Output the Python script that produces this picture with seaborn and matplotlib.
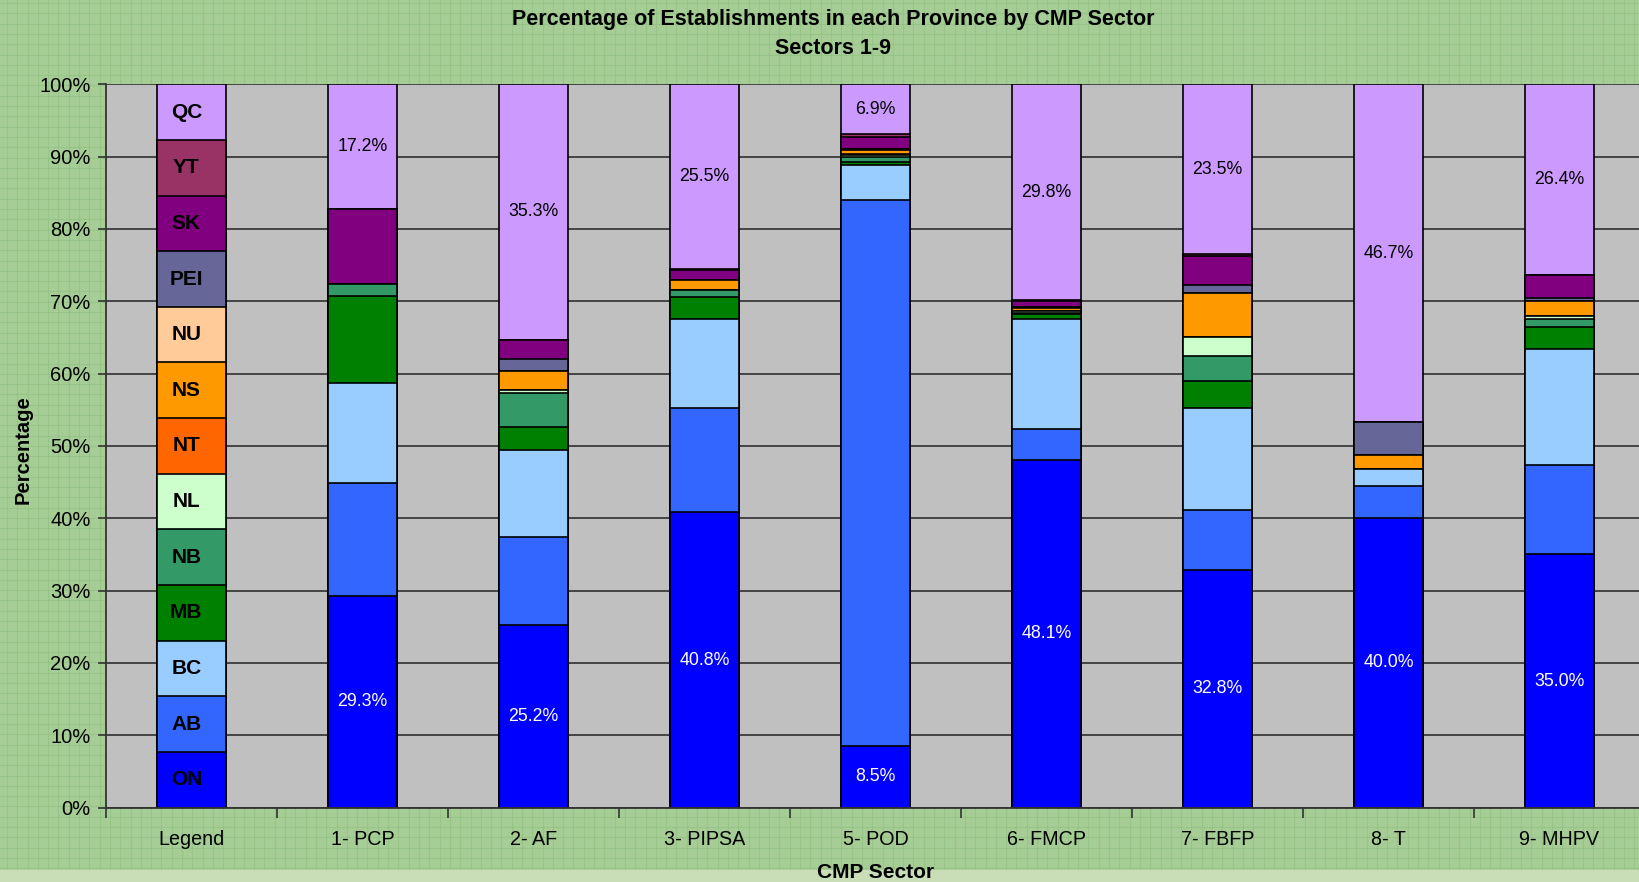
import numpy as np
import pandas as pd
import matplotlib
matplotlib.use("Agg")
import matplotlib.pyplot as plt
import seaborn as sns

# datos (porcentaje de establecimientos por provincia)
sectores = ["Legend", "1- PCP", "2- AF", "3- PIPSA", "5- POD", "6- FMCP", "7- FBFP", "8- T", "9- MHPV"]
provincias = ["ON", "AB", "BC", "MB", "NB", "NL", "NT", "NS", "NU", "PEI", "SK", "YT", "QC"]
colores = ["#0000FF", "#3366FF", "#99CCFF", "#008000", "#339966", "#CCFFCC", "#FF6600",
           "#FF9900", "#FFCC99", "#666699", "#800080", "#993366", "#CC99FF"]

leyenda = [100 / 13] * 13
pcp = [29.3, 15.6, 13.8, 12.1, 1.6, 0, 0, 0, 0, 0, 10.4, 0, 17.2]
af = [25.2, 12.2, 12.0, 3.2, 4.7, 0.5, 0, 2.5, 0, 1.7, 2.7, 0, 35.3]
pipsa = [40.8, 14.5, 12.3, 3.0, 0.9, 0, 0, 1.5, 0, 0, 1.3, 0.2, 25.5]
pod = [8.5, 75.5, 4.8, 0.4, 0.7, 0.3, 0.1, 0.6, 0.1, 0.1, 1.6, 0.4, 6.9]
fmcp = [48.1, 4.2, 15.2, 0.7, 0.2, 0.3, 0, 0.4, 0.1, 0, 0.9, 0.1, 29.8]
fbfp = [32.8, 8.4, 14.0, 3.8, 3.4, 2.7, 0, 6.0, 0, 1.1, 4.0, 0.3, 23.5]
t = [40.0, 4.5, 2.3, 0, 0, 0, 0, 1.9, 0, 4.6, 0, 0, 46.7]
mhpv = [35.0, 12.3, 16.1, 3.0, 1.1, 0.5, 0, 2.0, 0, 0.4, 3.2, 0, 26.4]

df = pd.DataFrame(dict(zip(sectores, [leyenda, pcp, af, pipsa, pod, fmcp, fbfp, t, mhpv])), index=provincias)
acum = df.cumsum()

plt.rcParams['font.family'] = ['Liberation Sans', 'DejaVu Sans']

fig = plt.figure(figsize=(16.4, 8.82), dpi=100, facecolor="#A5CD95")

# fondo cuadriculado verde
bg = fig.add_axes([0, 0, 1, 1], zorder=-10)
bg.set_xlim(0, 1640)
bg.set_ylim(882, 0)
bg.axis("off")
for xx in np.arange(7, 1640, 10.3):
    bg.axvline(xx, color="#8FC180", lw=0.8, alpha=0.6)
for yy in np.arange(3, 882, 10.3):
    bg.axhline(yy, color="#8FC180", lw=0.8, alpha=0.6)
bg.axhspan(870, 882, color="#C9DEB7", zorder=5)

ax = fig.add_axes([106 / 1640, 1 - 807.6 / 882, 1539 / 1640, 723.3 / 882])
ax.set_facecolor("#C0C0C0")
ax.set_axisbelow(True)
ax.yaxis.grid(True, color="#3A3A3A", lw=1.3)

# barras apiladas: de arriba (QC) hacia abajo (ON), encimando acumulados
for prov, col in zip(provincias[::-1], colores[::-1]):
    d = pd.DataFrame({"sector": sectores, "valor": acum.loc[prov].values})
    sns.barplot(data=d, x="sector", y="valor", order=sectores, color=col, width=0.4,
                edgecolor="black", linewidth=1.2, saturation=1, ax=ax)

ax.set_xlim(-0.5, 8.5)
ax.set_ylim(0, 100)
ax.set_xlabel("")
ax.set_ylabel("")

ax.set_yticks(np.arange(0, 101, 10))
ax.set_yticklabels([f"{v}%" for v in range(0, 101, 10)], fontsize=14.5)
ax.tick_params(axis="y", direction="out", length=6, width=1.2, color="#333333", pad=5)
ax.set_xticks(range(len(sectores)))
ax.set_xticklabels(sectores, fontsize=14.2)
ax.set_xticks(np.arange(-0.5, 8.5, 1), minor=True)
ax.tick_params(axis="x", which="major", length=0, pad=16)
ax.tick_params(axis="x", which="minor", length=7, width=1.2, color="#333333")
for s in ["top", "right"]:
    ax.spines[s].set_visible(False)
for s in ["left", "bottom"]:
    ax.spines[s].set_color("#333333")
    ax.spines[s].set_linewidth(1.3)

# etiquetas de la columna leyenda
for prov in provincias:
    centro = acum.loc[prov, "Legend"] - df.loc[prov, "Legend"] / 2
    ax.text(-0.03, centro, prov, ha="center", va="center", fontsize=15, fontweight="bold", color="black")

# etiquetas ON (blanco) y QC (negro)
for i, sec in enumerate(sectores[1:], start=1):
    on = df.loc["ON", sec]
    qc = df.loc["QC", sec]
    ax.text(i, on / 2, f"{on:.1f}%", ha="center", va="center", fontsize=12.8, color="white")
    ax.text(i, 100 - qc / 2, f"{qc:.1f}%", ha="center", va="center", fontsize=12.8, color="black")

fig.text(0.508, 1 - 19 / 882, "Percentage of Establishments in each Province by CMP Sector",
         ha="center", va="center", fontsize=15.5, fontweight="bold")
fig.text(0.508, 1 - 48 / 882, "Sectors 1-9", ha="center", va="center", fontsize=15.5, fontweight="bold")
fig.text(23 / 1640, 1 - 450 / 882, "Percentage", rotation=90, ha="center", va="center",
         fontsize=14.5, fontweight="bold")
fig.text(876 / 1640, 1 - 863 / 882, "CMP Sector", ha="center", va="top", fontsize=15, fontweight="bold")

fig.savefig("out.png", dpi=100, facecolor=fig.get_facecolor())
